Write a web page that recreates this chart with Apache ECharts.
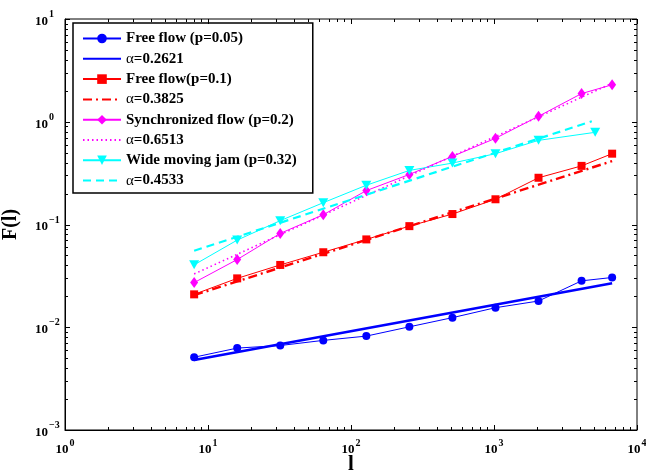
<!DOCTYPE html>
<html>
<head>
<meta charset="utf-8">
<script src="https://cdn.jsdelivr.net/npm/echarts@6/dist/echarts.min.js"></script>
<style>
  html, body { margin: 0; padding: 0; background: #fff; }
  #chart { width: 646px; height: 474px; }
</style>
</head>
<body>
<div id="chart"></div>
<script>
// Window lengths l and fluctuation function F(l) for each traffic phase
const lengths = [8, 16, 32, 64, 128, 256, 512, 1024, 2048, 4096, 6700];
const lengthsJam = [8, 16, 32, 64, 128, 256, 512, 1024, 2048, 5100];

const freeFlow005 = [0.00511, 0.00627, 0.00664, 0.00745, 0.0082, 0.0101, 0.0124, 0.0155, 0.0180, 0.0283, 0.0305];
const freeFlow01 = [0.0209, 0.0299, 0.0404, 0.0537, 0.0716, 0.0964, 0.1264, 0.176, 0.285, 0.372, 0.489];
const syncFlow = [0.0272, 0.0456, 0.0819, 0.1245, 0.2138, 0.307, 0.460, 0.690, 1.13, 1.88, 2.29];
const wideJam = [0.0405, 0.0705, 0.109, 0.163, 0.241, 0.336, 0.396, 0.489, 0.659, 0.789];

// Power-law fit segments (end points of each straight line in log-log space)
const fitRangeL = [8, 6700];
const fitRangeJamL = [8, 4830];
const fitFree005 = [0.0048, 0.0268];
const fitFree01 = [0.0205, 0.414];
const fitSync = [0.033, 2.37];
const fitJam = [0.0555, 1.01];

const seriesNames = [
  'Free flow (p=0.05)', 'α=0.2621',
  'Free flow(p=0.1)', 'α=0.3825',
  'Synchronized flow (p=0.2)', 'α=0.6513',
  'Wide moving jam (p=0.32)', 'α=0.4533'
];

// Tick positions: decades plus the 2..9 minor ticks inside each decade
const xMajor = [1, 10, 100, 1000, 10000];
const yMajor = [0.001, 0.01, 0.1, 1, 10];
function minorTicks(majors) {
  const out = [];
  for (let i = 0; i < majors.length - 1; i++) {
    for (let m = 2; m <= 9; m++) out.push(+(majors[i] * m).toPrecision(6));
  }
  return out;
}
const xMinor = minorTicks(xMajor);
const yMinor = minorTicks(yMajor);

const pairs = (xs, ys) => xs.map((x, i) => [x, ys[i]]);

const SERIF = 'Liberation Serif';
const BLUE = '#0000ff', RED = '#ff0000', MAGENTA = '#ff00ff', CYAN = '#00ffff';

function dataLine(name, xs, ys, color, symbol, size, extra) {
  return Object.assign({
    name, type: 'line', data: pairs(xs, ys),
    symbol, symbolSize: size,
    lineStyle: { color, width: 1 },
    itemStyle: { color },
    z: 3, animation: false
  }, extra || {});
}
// Fit lines carry no markers, so their legend swatch is a bare line
function fitLine(name, xs, ys, color, width, type) {
  return {
    name, type: 'line', data: pairs(xs, ys),
    symbol: 'none',
    lineStyle: { color, width, type },
    itemStyle: { color, opacity: 0 },
    z: 4, animation: false
  };
}

// Inward tick marks drawn on all four sides of the frame
function tickSeries(dir, values, len) {
  return {
    type: 'custom', silent: true, z: 10, animation: false,
    data: values.map(v => dir === 'x' ? [v, 1] : [1, v]),
    renderItem(params, api) {
      const cs = params.coordSys;
      const p = api.coord([api.value(0), api.value(1)]);
      const st = { stroke: '#000', lineWidth: 1 };
      if (dir === 'x') {
        const x = Math.round(p[0]) + 0.5;
        return { type: 'group', children: [
          { type: 'line', shape: { x1: x, y1: cs.y + cs.height, x2: x, y2: cs.y + cs.height - len }, style: st },
          { type: 'line', shape: { x1: x, y1: cs.y, x2: x, y2: cs.y + len }, style: st }
        ]};
      }
      const y = Math.round(p[1]) + 0.5;
      return { type: 'group', children: [
        { type: 'line', shape: { x1: cs.x, y1: y, x2: cs.x + len, y2: y }, style: st },
        { type: 'line', shape: { x1: cs.x + cs.width, y1: y, x2: cs.x + cs.width - len, y2: y }, style: st }
      ]};
    }
  };
}

const powerLabel = v => {
  const e = Math.round(Math.log10(v));
  return '{b|10}{s|' + (e < 0 ? '\u2212' + (-e) : e) + '}';
};
const powerRich = {
  b: { fontFamily: SERIF, fontWeight: 'bold', fontSize: 13, color: '#000', lineHeight: 24, verticalAlign: 'middle' },
  s: { fontFamily: SERIF, fontWeight: 'bold', fontSize: 10, color: '#000', lineHeight: 10, verticalAlign: 'top', padding: [0, 0, 0, 1] }
};

const chart = echarts.init(document.getElementById('chart'), null, { renderer: 'canvas' });
chart.setOption({
  backgroundColor: '#fff',
  animation: false,
  grid: {
    left: 65, top: 19, right: 9, bottom: 44,
    outerBoundsMode: 'none', containLabel: false,
    show: true, borderColor: '#000', borderWidth: 1, backgroundColor: 'transparent'
  },
  xAxis: {
    type: 'log', logBase: 10, min: 1, max: 10000,
    name: 'l', nameLocation: 'middle', nameGap: 24, nameMoveOverlap: false,
    nameTextStyle: { fontFamily: SERIF, fontWeight: 'bold', fontSize: 21, color: '#000', verticalAlign: 'top', lineHeight: 22 },
    axisLine: { show: true, lineStyle: { color: '#000', width: 1 } },
    axisTick: { show: false },
    splitLine: { show: false },
    axisLabel: { margin: 8, formatter: powerLabel, rich: powerRich, showMinLabel: true, showMaxLabel: true }
  },
  yAxis: {
    type: 'log', logBase: 10, min: 0.001, max: 10,
    name: 'F(l)', nameLocation: 'middle', nameGap: 44, nameRotate: 90, nameMoveOverlap: false,
    nameTextStyle: { fontFamily: SERIF, fontWeight: 'bold', fontSize: 20, color: '#000' },
    axisLine: { show: true, lineStyle: { color: '#000', width: 1 } },
    axisTick: { show: false },
    splitLine: { show: false },
    axisLabel: { margin: 30, align: 'left', padding: [5, 0, 0, 0], formatter: powerLabel, rich: powerRich, showMinLabel: true, showMaxLabel: true }
  },
  legend: {
    data: seriesNames,
    orient: 'vertical',
    left: 73, top: 23,
    padding: [8, 16, 5, 9],
    itemWidth: 38, itemHeight: 12, itemGap: 5.3,
    backgroundColor: '#fff',
    borderColor: '#000', borderWidth: 1.5,
    selectedMode: false,
    formatter: name => name.replace('α', '{g|α}'),
    textStyle: {
      fontFamily: SERIF, fontWeight: 'bold', fontSize: 15, color: '#000', lineHeight: 14,
      rich: { g: { fontFamily: SERIF, fontWeight: 'normal', fontSize: 15, color: '#000', lineHeight: 14 } }
    }
  },
  series: [
    dataLine(seriesNames[0], lengths, freeFlow005, BLUE, 'circle', 8),
    fitLine(seriesNames[1], fitRangeL, fitFree005, BLUE, 2.6, 'solid'),
    dataLine(seriesNames[2], lengths, freeFlow01, RED, 'rect', 8),
    fitLine(seriesNames[3], fitRangeL, fitFree01, RED, 2.4, [9, 4, 2, 4]),
    dataLine(seriesNames[4], lengths, syncFlow, MAGENTA, 'diamond', [8, 11]),
    fitLine(seriesNames[5], fitRangeL, fitSync, MAGENTA, 1.6, [1.5, 3]),
    dataLine(seriesNames[6], lengthsJam, wideJam, CYAN, 'triangle', [10, 9], { symbolRotate: 180 }),
    fitLine(seriesNames[7], fitRangeJamL, fitJam, CYAN, 2.2, [8, 5]),
    tickSeries('x', xMajor, 5),
    tickSeries('x', xMinor, 3),
    tickSeries('y', yMajor, 5),
    tickSeries('y', yMinor, 3)
  ]
});
</script>
</body>
</html>
